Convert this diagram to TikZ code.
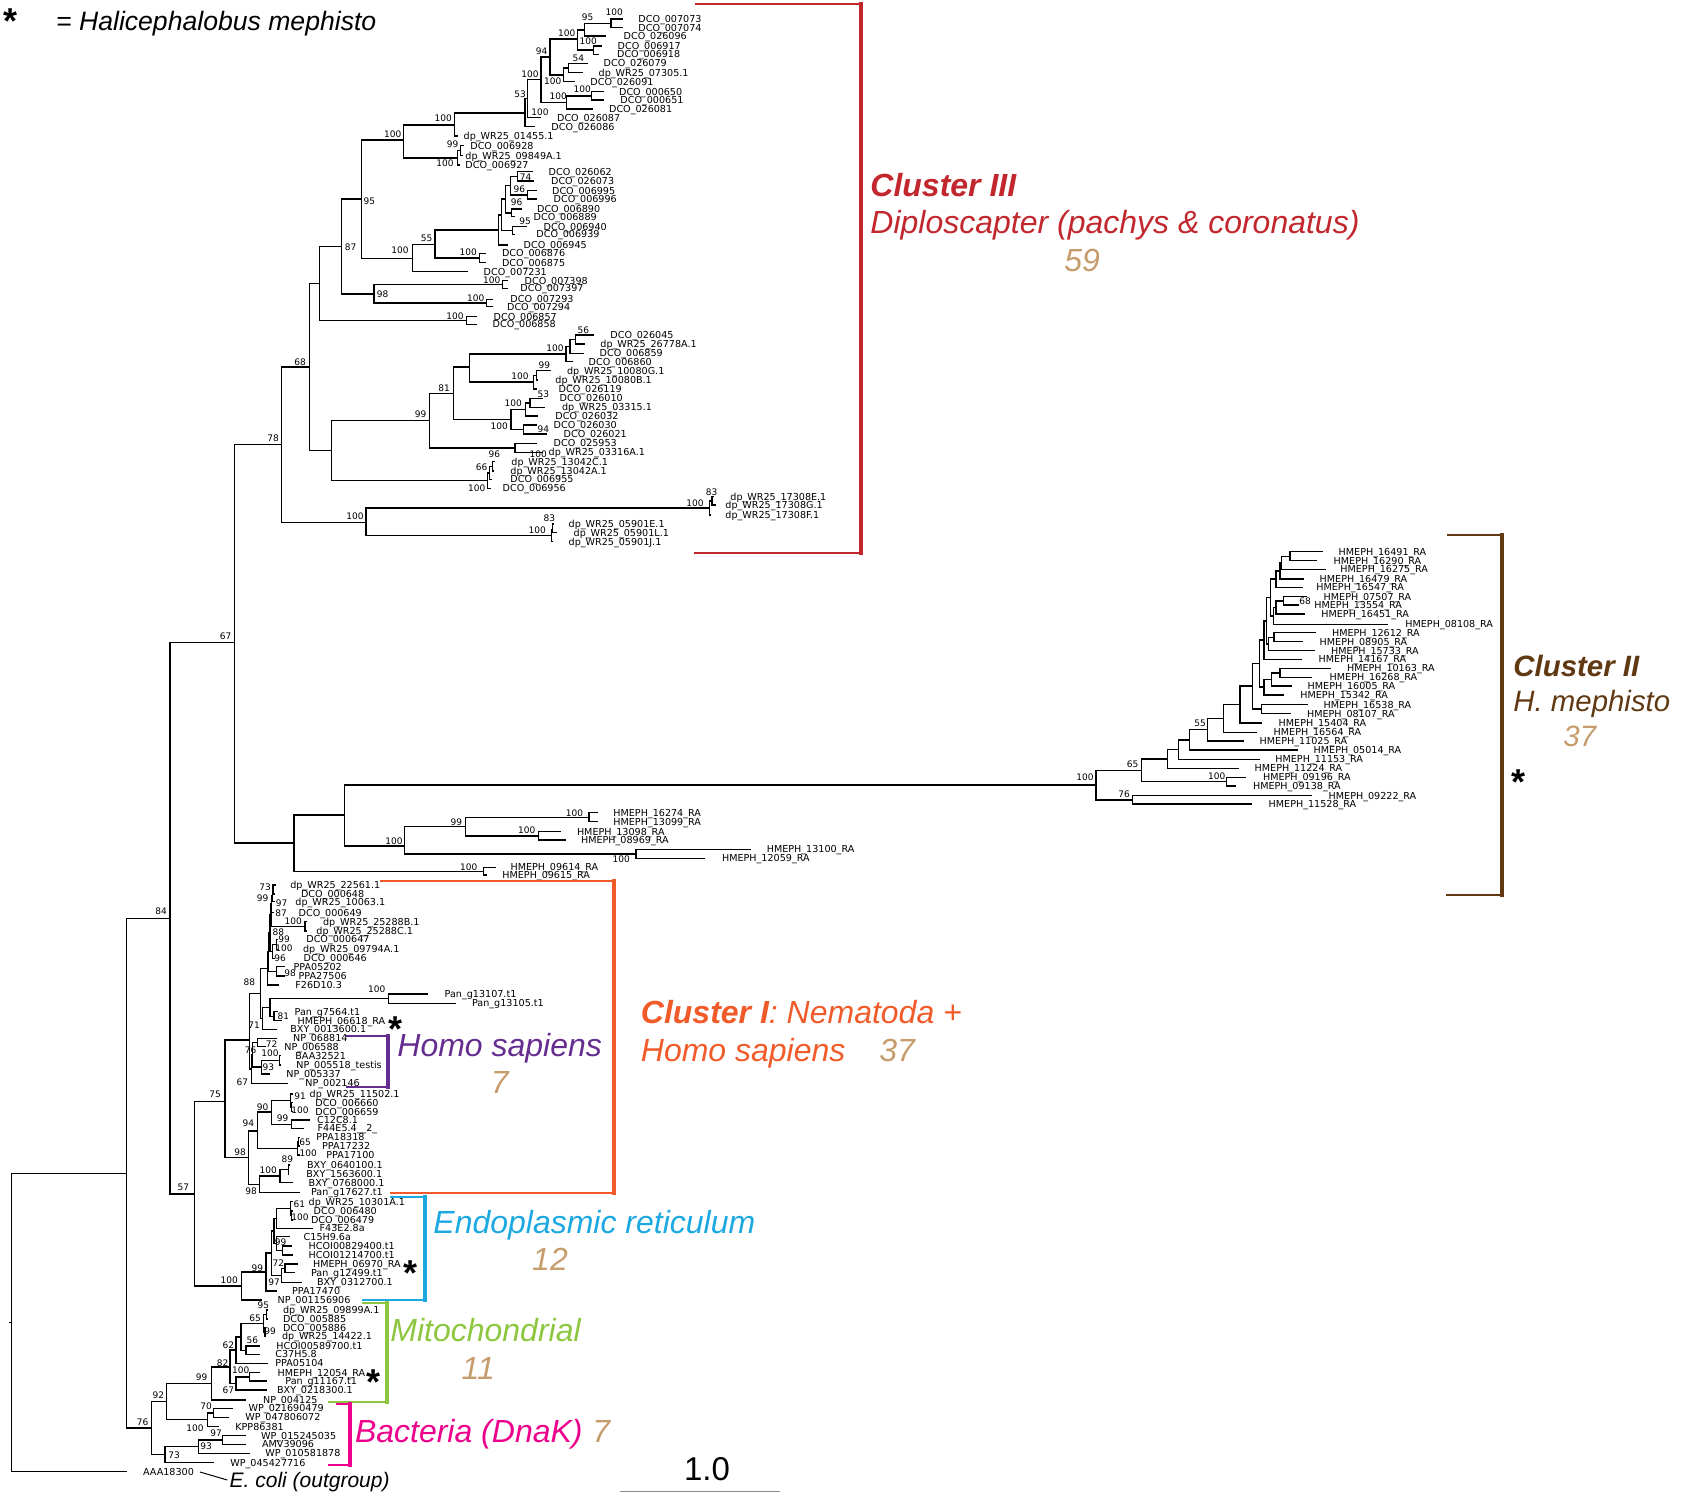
\documentclass[tikz,border=0pt]{standalone}
\usepackage{fontspec}
\setmainfont{Liberation Sans}
\newfontfamily\tipfont{DejaVu Sans}
\definecolor{redIII}{HTML}{C1272D}
\definecolor{brownII}{HTML}{603913}
\definecolor{orangeI}{HTML}{F15A29}
\definecolor{numtan}{HTML}{C69C6D}
\definecolor{homo}{HTML}{662D91}
\definecolor{ercol}{HTML}{1CA9E1}
\definecolor{mito}{HTML}{8DC63F}
\definecolor{bact}{HTML}{EC008C}
\tikzset{
  branch/.style={line width=0.7pt},
  tip/.style={anchor=west, inner sep=0pt, font=\tipfont\fontsize{4.8}{5.8}\selectfont, text height=3.5pt, text depth=0pt},
  supval/.style={inner sep=0pt, font=\tipfont\fontsize{4.5}{5.5}\selectfont, text height=3.3pt, text depth=0pt},
  bigtext/.style={anchor=west, inner sep=0pt, font=\itshape\fontsize{16}{16}\selectfont, text height=11.5pt, text depth=0pt},
  midtext/.style={bigtext, font=\itshape\fontsize{14.7}{14.7}\selectfont, text height=10.5pt},
  count/.style={bigtext, text=numtan},
  aster/.style={anchor=center, inner sep=0pt, text height=5.6pt, text depth=0pt, font=\bfseries\fontsize{18}{18}\selectfont},
  bracket/.style={line width=1pt},
  bracketbar/.style={line width=2pt, line cap=rect},
}
\newcommand{\leaf}[5]{\coordinate (#1) at (#2,#3); \node[tip] (#1-l) at (#4,#3) {#5};}
\newcommand{\clade}[3]{\coordinate (#1) at (#2,#3);}
\newcommand{\links}[2]{\foreach \kid in {#2}{\draw[branch] (#1) |- (\kid);}}
\newcommand{\supp}[4]{\node[supval] (#1) at (#2,#3) {#4};}
\newcommand{\astglyph}{\raisebox{-7.4pt}{*}}
\begin{document}
\begin{tikzpicture}[x=0.5pt,y=-0.5pt]
\useasboundingbox (0,0) rectangle (1685,1493);
\leaf{d7073}{623}{19}{638}{DCO\_007073}
\leaf{d7074}{623}{27.7}{638}{DCO\_007074}
\leaf{d26096}{606}{36}{623.3}{DCO\_026096}
\leaf{d6917}{601.7}{46}{617.3}{DCO\_006917}
\leaf{d6918}{599.3}{54.3}{616.7}{DCO\_006918}
\leaf{d26079}{587.7}{63.3}{603.3}{DCO\_026079}
\leaf{w07305}{583.3}{72.7}{598.3}{dp\_WR25\_07305.1}
\leaf{d26091}{575}{81.7}{590}{DCO\_026091}
\leaf{d650}{604}{91.7}{618.7}{DCO\_000650}
\leaf{d651}{604}{100}{620}{DCO\_000651}
\leaf{d26081}{593.3}{109}{608.7}{DCO\_026081}
\leaf{d26087}{541}{117.7}{556.7}{DCO\_026087}
\leaf{d26086}{535}{126.7}{551}{DCO\_026086}
\leaf{w01455}{458.3}{136}{463.3}{dp\_WR25\_01455.1}
\leaf{d6928}{463.5}{145.7}{470}{DCO\_006928}
\leaf{w09849}{463}{155.7}{465}{dp\_WR25\_09849A.1}
\leaf{d6927}{460}{165}{465}{DCO\_006927}
\leaf{d26062}{533.3}{171.7}{548.3}{DCO\_026062}
\leaf{d26073}{534.3}{181}{550.7}{DCO\_026073}
\leaf{d6995}{536.7}{190.7}{551.7}{DCO\_006995}
\leaf{d6996}{536.7}{199}{553.3}{DCO\_006996}
\leaf{d6890}{521.7}{209}{536.7}{DCO\_006890}
\leaf{d6889}{515}{216.7}{533.3}{DCO\_006889}
\leaf{d6940}{527.3}{226.7}{543.3}{DCO\_006940}
\leaf{d6939}{515}{234.3}{536}{DCO\_006939}
\leaf{d6945}{507.7}{245}{523.3}{DCO\_006945}
\leaf{d6876}{486}{253.3}{501.7}{DCO\_006876}
\leaf{d6875}{486}{262.7}{501.7}{DCO\_006875}
\leaf{d7231}{467.7}{271.7}{483.3}{DCO\_007231}
\leaf{d7398}{508.3}{280.7}{524.3}{DCO\_007398}
\leaf{d7397}{508.3}{288.3}{520}{DCO\_007397}
\leaf{d7293}{493.3}{299.3}{510}{DCO\_007293}
\leaf{d7294}{493.3}{306.7}{506.7}{DCO\_007294}
\leaf{d6857}{476.7}{316.7}{493.3}{DCO\_006857}
\leaf{d6858}{476.7}{324.3}{492.3}{DCO\_006858}
\leaf{d26045}{594.3}{335}{610}{DCO\_026045}
\leaf{w26778}{585}{344}{600}{dp\_WR25\_26778A.1}
\leaf{d6859}{584}{353.3}{599.3}{DCO\_006859}
\leaf{d6860}{572.7}{361.7}{588.3}{DCO\_006860}
\leaf{w10080g}{550.7}{370.7}{566.7}{dp\_WR25\_10080G.1}
\leaf{w10080b}{538.3}{380}{555}{dp\_WR25\_10080B.1}
\leaf{d26119}{536.7}{389}{558.3}{DCO\_026119}
\leaf{d26010}{543.3}{398.3}{559.3}{DCO\_026010}
\leaf{w03315}{545}{407.3}{561.7}{dp\_WR25\_03315.1}
\leaf{d26032}{538.3}{416}{555}{DCO\_026032}
\leaf{d26030}{536.7}{425}{553.3}{DCO\_026030}
\leaf{d26021}{546.7}{434}{563.3}{DCO\_026021}
\leaf{d25953}{536.7}{443.3}{553.3}{DCO\_025953}
\leaf{w03316}{543.3}{452.3}{548.3}{dp\_WR25\_03316A.1}
\leaf{w13042c}{495}{461.7}{511}{dp\_WR25\_13042C.1}
\leaf{w13042a}{494}{471}{510}{dp\_WR25\_13042A.1}
\leaf{d6955}{491.7}{479.3}{510}{DCO\_006955}
\leaf{d6956}{490.7}{488.3}{502.3}{DCO\_006956}
\leaf{w17308e}{714}{496.7}{730}{dp\_WR25\_17308E.1}
\leaf{w17308g}{716}{505}{725}{dp\_WR25\_17308G.1}
\leaf{w17308f}{711}{515}{725}{dp\_WR25\_17308F.1}
\leaf{w05901e}{554}{524}{568.3}{dp\_WR25\_05901E.1}
\leaf{w05901l}{557}{532.7}{573.3}{dp\_WR25\_05901L.1}
\leaf{w05901j}{552.5}{541.7}{568.3}{dp\_WR25\_05901J.1}
\leaf{hm16274}{598}{812.7}{613}{HMEPH\_16274\_RA}
\leaf{hm13099}{598}{821.7}{613}{HMEPH\_13099\_RA}
\leaf{hm13098}{560.8}{831.7}{576.6}{HMEPH\_13098\_RA}
\leaf{hm08969}{566.2}{840}{580.7}{HMEPH\_08969\_RA}
\leaf{hm13100}{750.7}{849.3}{766.4}{HMEPH\_13100\_RA}
\leaf{hm12059}{705}{858.3}{721.7}{HMEPH\_12059\_RA}
\leaf{hm09614}{495.7}{867.3}{510.2}{HMEPH\_09614\_RA}
\leaf{hm09615}{486.6}{875}{502}{HMEPH\_09615\_RA}
\leaf{hm16491}{1322.7}{551.7}{1338.3}{HMEPH\_16491\_RA}
\leaf{hm16290}{1317.3}{560.7}{1333.3}{HMEPH\_16290\_RA}
\leaf{hm16275}{1325.7}{569.3}{1340}{HMEPH\_16275\_RA}
\leaf{hm16479}{1304.3}{579}{1319.3}{HMEPH\_16479\_RA}
\leaf{hm16547}{1303.3}{587.3}{1316}{HMEPH\_16547\_RA}
\leaf{hm07507}{1306.7}{596.7}{1323.3}{HMEPH\_07507\_RA}
\leaf{hm13554}{1299.3}{605}{1314}{HMEPH\_13554\_RA}
\leaf{hm16451}{1305}{614}{1321}{HMEPH\_16451\_RA}
\leaf{hm08108}{1388.3}{624.3}{1405}{HMEPH\_08108\_RA}
\leaf{hm12612}{1315.7}{632.7}{1331.7}{HMEPH\_12612\_RA}
\leaf{hm08905}{1303.3}{641.7}{1319.3}{HMEPH\_08905\_RA}
\leaf{hm15733}{1315}{650.7}{1330.7}{HMEPH\_15733\_RA}
\leaf{hm14167}{1302.3}{659.3}{1318.3}{HMEPH\_14167\_RA}
\leaf{hm10163}{1330.7}{668.3}{1346.7}{HMEPH\_10163\_RA}
\leaf{hm16268}{1312.3}{677.3}{1329.3}{HMEPH\_16268\_RA}
\leaf{hm16005}{1291.7}{686}{1307.3}{HMEPH\_16005\_RA}
\leaf{hm15342}{1284}{695}{1300}{HMEPH\_15342\_RA}
\leaf{hm16538}{1308.3}{704.5}{1323.3}{HMEPH\_16538\_RA}
\leaf{hm08107}{1291}{713.5}{1306.7}{HMEPH\_08107\_RA}
\leaf{hm15404}{1262.3}{723}{1278.3}{HMEPH\_15404\_RA}
\leaf{hm16564}{1256.7}{732.3}{1273.3}{HMEPH\_16564\_RA}
\leaf{hm11025}{1244}{741}{1259.3}{HMEPH\_11025\_RA}
\leaf{hm05014}{1297.8}{750}{1313.3}{HMEPH\_05014\_RA}
\leaf{hm11153}{1259.5}{759.3}{1275}{HMEPH\_11153\_RA}
\leaf{hm11224}{1239.3}{768.3}{1254.3}{HMEPH\_11224\_RA}
\leaf{hm09196}{1246}{777.3}{1262.7}{HMEPH\_09196\_RA}
\leaf{hm09138}{1236}{786}{1252.7}{HMEPH\_09138\_RA}
\leaf{hm09222}{1312.3}{795.7}{1328.3}{HMEPH\_09222\_RA}
\leaf{hm11528}{1252.3}{804}{1268.3}{HMEPH\_11528\_RA}
\leaf{w22561}{276}{885}{290}{dp\_WR25\_22561.1}
\leaf{d648}{274.5}{894}{300.7}{DCO\_000648}
\leaf{w10063}{275}{901.7}{295}{dp\_WR25\_10063.1}
\leaf{d649}{273.5}{912.7}{298.3}{DCO\_000649}
\leaf{w25288b}{306.7}{921.7}{322.7}{dp\_WR25\_25288B.1}
\leaf{w25288c}{306.7}{931}{316}{dp\_WR25\_25288C.1}
\leaf{d647}{278}{939.3}{306}{DCO\_000647}
\leaf{w09794}{277}{949.3}{302.7}{dp\_WR25\_09794A.1}
\leaf{d646}{274.5}{958.3}{303.3}{DCO\_000646}
\leaf{ppa05202}{285}{966.7}{293.3}{PPA05202}
\leaf{ppa27506}{285}{976}{298.3}{PPA27506}
\leaf{f26d10}{279}{985}{295}{F26D10.3}
\leaf{pan13107}{428.3}{994}{444.3}{Pan\_g13107.t1}
\leaf{pan13105}{456}{1003.3}{471.7}{Pan\_g13105.t1}
\leaf{pan7564}{278.3}{1011.7}{294.3}{Pan\_g7564.t1}
\leaf{hm06618}{281.7}{1020.7}{297.3}{HMEPH\_06618\_RA}
\leaf{bxy13600}{276.7}{1029.3}{290}{BXY\_0013600.1}
\leaf{np068814}{276.7}{1038.3}{292.7}{NP\_068814}
\leaf{np006588}{266}{1046.7}{284}{NP\_006588}
\leaf{baa32521}{280.5}{1055.7}{295}{BAA32521}
\leaf{np005518}{280.5}{1065}{296}{NP\_005518\_testis}
\leaf{np005337}{270}{1074}{286}{NP\_005337}
\leaf{np002146}{288.3}{1083.3}{305}{NP\_002146}
\leaf{w11502}{292.7}{1094}{309.3}{dp\_WR25\_11502.1}
\leaf{d6660}{292.7}{1102.7}{315}{DCO\_006660}
\leaf{d6659}{292.7}{1111.7}{315}{DCO\_006659}
\leaf{c12c8}{310}{1120}{316.7}{C12C8.1}
\leaf{f44e5}{304}{1128.3}{317.3}{F44E5.4\_\_2\_}
\leaf{ppa18318}{299.5}{1137.3}{316}{PPA18318}
\leaf{ppa17232}{299.5}{1146}{321.7}{PPA17232}
\leaf{ppa17100}{299.5}{1155}{326}{PPA17100}
\leaf{bxy640}{290}{1165}{306.7}{BXY\_0640100.1}
\leaf{bxy1563}{289.3}{1174}{306}{BXY\_1563600.1}
\leaf{bxy768}{293.3}{1182.7}{308.3}{BXY\_0768000.1}
\leaf{pan17627}{300}{1192.3}{310.7}{Pan\_g17627.t1}
\leaf{w10301}{293}{1201.7}{308.3}{dp\_WR25\_10301A.1}
\leaf{d6480}{292.7}{1211}{313.3}{DCO\_006480}
\leaf{d6479}{292.7}{1220}{310.7}{DCO\_006479}
\leaf{f43e2}{312.7}{1228.3}{319.3}{F43E2.8a}
\leaf{c15h9}{290}{1236.7}{303.3}{C15H9.6a}
\leaf{hc829}{291.7}{1246}{308.3}{HCOI00829400.t1}
\leaf{hc1214}{292.7}{1255}{308.3}{HCOI01214700.t1}
\leaf{hm06970}{298.3}{1264}{312.7}{HMEPH\_06970\_RA}
\leaf{pan12499}{295}{1272.7}{310.7}{Pan\_g12499.t1}
\leaf{bxy312}{301.7}{1282.3}{316.7}{BXY\_0312700.1}
\leaf{ppa17470}{276.7}{1291}{291.7}{PPA17470}
\leaf{np1156}{262}{1300}{277.3}{NP\_001156906}
\leaf{w09899}{268}{1310}{282.7}{dp\_WR25\_09899A.1}
\leaf{d5885}{267.5}{1319}{282.7}{DCO\_005885}
\leaf{d5886}{266}{1327.7}{282.7}{DCO\_005886}
\leaf{w14422}{266}{1336}{281.7}{dp\_WR25\_14422.1}
\leaf{hc589}{260}{1346}{276}{HCOI00589700.t1}
\leaf{c37h5}{260}{1354.3}{275}{C37H5.8}
\leaf{ppa05104}{268.3}{1363.3}{275}{PPA05104}
\leaf{hm12054}{260}{1372.7}{277.3}{HMEPH\_12054\_RA}
\leaf{pan11167}{266.7}{1381}{285}{Pan\_g11167.t1}
\leaf{bxy218}{266.7}{1390}{276.7}{BXY\_0218300.1}
\leaf{np4125}{246}{1400}{262.7}{NP\_004125}
\leaf{wp021690}{232.7}{1408.3}{248.3}{WP\_021690479}
\leaf{wp047806}{229.3}{1417.3}{245}{WP\_047806072}
\leaf{kpp86381}{219.3}{1426.7}{235}{KPP86381}
\leaf{wp015245}{246}{1435.7}{260.7}{WP\_015245035}
\leaf{amv39096}{246}{1444.3}{261.7}{AMV39096}
\leaf{wp010581}{250}{1453.3}{265}{WP\_010581878}
\leaf{wp045427}{214.3}{1462.7}{230}{WP\_045427716}
\leaf{aaa18300}{126.7}{1471.7}{142.7}{AAA18300}
\clade{a1}{611}{23.3}
\clade{a2}{584.3}{30}
\clade{a3}{593.3}{50}
\clade{a4}{577.3}{39}
\clade{a5}{568.3}{68}
\clade{a6}{563.3}{75}
\clade{a7}{550}{57}
\clade{a8}{591.7}{96}
\clade{a9}{566.7}{102.5}
\clade{a10}{541}{79.3}
\clade{a11}{527.7}{98.5}
\clade{a12}{525}{113}
\clade{a13}{454.3}{125}
\clade{a15}{460.7}{150.7}
\clade{a16}{457.7}{158}
\clade{a14}{403.3}{140}
\clade{b1}{517.7}{176.3}
\clade{b2}{527.3}{195}
\clade{b4}{510.3}{185.7}
\clade{b5}{511.7}{212.8}
\clade{b7}{505.7}{199}
\clade{b3}{512.7}{230.5}
\clade{b8}{501.7}{215}
\clade{b9}{498.3}{230}
\clade{b10}{479.3}{258}
\clade{b11}{435}{244.3}
\clade{b6}{412.7}{258.3}
\clade{a17}{361.7}{199}
\clade{b12}{502.7}{284.5}
\clade{b13}{486.7}{303}
\clade{b14}{374}{294}
\clade{a18}{341.7}{246.7}
\clade{b15}{466.7}{320.5}
\clade{c1}{319.3}{283.6}
\clade{c11}{575.7}{339.5}
\clade{c12}{570}{346.5}
\clade{c9}{566}{354}
\clade{c13}{536.7}{375.3}
\clade{c10}{533.3}{382}
\clade{c7}{469.3}{367}
\clade{c16}{530}{402.8}
\clade{c14}{525.7}{409.4}
\clade{c15}{523.3}{429.5}
\clade{c8}{511}{419.5}
\clade{c5}{453.3}{393.5}
\clade{c6}{515}{447.8}
\clade{c3}{429.3}{420.6}
\clade{c17}{492.5}{466.3}
\clade{c18}{489.3}{473}
\clade{c4}{487.3}{480.7}
\clade{c2}{331.7}{450.7}
\clade{c0}{309.3}{367}
\clade{g4}{712}{501}
\clade{g2}{709.3}{508}
\clade{g5}{552.7}{529.5}
\clade{g3}{551.7}{535.6}
\clade{g1}{366}{522.7}
\clade{n78}{281.7}{444.7}
\clade{h16274}{589}{817.2}
\clade{h13098}{538.4}{836}
\clade{h99}{465.4}{826.6}
\clade{h13100}{635.8}{853.8}
\clade{hy}{404.5}{846}
\clade{p1}{1290}{556.2}
\clade{p2}{1281.7}{562.8}
\clade{p3}{1280}{571}
\clade{p4}{1276}{579}
\clade{q1}{1283.3}{600.8}
\clade{q2}{1276}{607.5}
\clade{q3}{1273.3}{616}
\clade{p5}{1270.7}{597.5}
\clade{r1}{1274}{637.2}
\clade{r2}{1268.3}{644}
\clade{p6}{1266.7}{621}
\clade{p7}{1264}{640}
\clade{s1}{1280}{672.8}
\clade{s2}{1271.7}{679.4}
\clade{s3}{1264}{687}
\clade{p8}{1259.3}{663.5}
\clade{t1}{1261.7}{709}
\clade{p9}{1252.7}{686}
\clade{ne}{1240}{704.5}
\clade{nd}{1223.3}{718.5}
\clade{n55}{1207.7}{729.7}
\clade{nc}{1189.3}{740}
\clade{nb}{1178.3}{749.6}
\clade{na}{1167.3}{759}
\clade{n100b}{1226.7}{781.7}
\clade{n65}{1141.7}{770.3}
\clade{n76b}{1132.7}{799.8}
\clade{c2root}{1096}{785}
\clade{hx}{344.4}{815}
\clade{h09614}{483.3}{871.2}
\clade{hm}{293.8}{843}
\clade{n67}{234.3}{642.6}
\clade{u1}{273}{889.5}
\clade{u2}{272.3}{895.6}
\clade{u3}{271.7}{904}
\clade{u4}{305}{926.3}
\clade{u5}{271}{915}
\clade{u6}{276.7}{944.3}
\clade{u7}{272.7}{951.3}
\clade{u8}{270}{933}
\clade{u9}{276.7}{971.3}
\clade{u10}{268.7}{952}
\clade{u11}{267.3}{968.5}
\clade{w1}{388.3}{998.7}
\clade{w2}{274}{1016.2}
\clade{w3}{270}{1007.4}
\clade{w4}{262.7}{1018.3}
\clade{v1}{260.7}{993.4}
\clade{x1}{257.3}{1042.5}
\clade{x2}{279.3}{1060.3}
\clade{x3}{261.7}{1067}
\clade{x4}{252.7}{1054.7}
\clade{x5}{251.7}{1069}
\clade{y1}{249.3}{1040}
\clade{z0}{291.7}{1107.2}
\clade{z1}{290.5}{1100.6}
\clade{z2}{291.7}{1124.2}
\clade{z3}{271.7}{1112}
\clade{z4a}{298.5}{1141.7}
\clade{z4}{297.7}{1148.3}
\clade{z5}{257.3}{1131}
\clade{z6}{288.3}{1169.5}
\clade{z7}{280}{1176}
\clade{z8}{259.3}{1184.3}
\clade{z9}{248.3}{1157.7}
\clade{n75}{225}{1101.7}
\clade{e0}{291.7}{1215.5}
\clade{e1}{290.7}{1208.6}
\clade{e2}{276.7}{1218.5}
\clade{e3}{282.7}{1250.5}
\clade{e4}{276.7}{1243.6}
\clade{e5}{285}{1268.3}
\clade{e6}{281.7}{1275.3}
\clade{e7}{274}{1231}
\clade{e8}{271.7}{1253}
\clade{e9}{266}{1272}
\clade{ner}{241.7}{1286}
\clade{n57}{194.3}{1194}
\clade{m1}{266.7}{1314.5}
\clade{m2}{265}{1331.8}
\clade{m3}{263.3}{1323.2}
\clade{m4}{246}{1350.2}
\clade{m5}{241}{1337}
\clade{m6}{236}{1350}
\clade{m7}{249.3}{1376.8}
\clade{m8}{236}{1383.4}
\clade{m9}{230}{1367}
\clade{m10}{211.7}{1383.5}
\clade{k0}{213.3}{1412.8}
\clade{k1}{207.3}{1419.7}
\clade{n92}{166.7}{1401.6}
\clade{k2}{222.7}{1440}
\clade{k3}{198.3}{1446.7}
\clade{k4}{165}{1454.7}
\clade{n76}{151.7}{1428}
\clade{n84}{170}{918.3}
\clade{r0}{126.7}{1173.4}
\clade{root}{11.7}{1322.5}
\coordinate (rootstem) at (8.5,1322.5);
\links{a1}{d7073,d7074}
\links{a2}{a1,d26096}
\links{a3}{d6917,d6918}
\links{a4}{a2,a3}
\links{a5}{d26079,w07305}
\links{a6}{a5,d26091}
\links{a7}{a4,a6}
\links{a8}{d650,d651}
\links{a9}{a8,d26081}
\links{a10}{a7,a9}
\links{a11}{a10,d26087}
\links{a12}{a11,d26086}
\links{a13}{a12,w01455}
\links{a15}{d6928,w09849}
\links{a16}{a15,d6927}
\links{a14}{a13,a16}
\links{b1}{d26062,d26073}
\links{b2}{d6995,d6996}
\links{b4}{b1,b2}
\links{b5}{d6890,d6889}
\links{b7}{b4,b5}
\links{b3}{d6940,d6939}
\links{b8}{b7,b3}
\links{b9}{b8,d6945}
\links{b10}{d6876,d6875}
\links{b11}{b9,b10}
\links{b6}{b11,d7231}
\links{a17}{a14,b6}
\links{b12}{d7398,d7397}
\links{b13}{d7293,d7294}
\links{b14}{b12,b13}
\links{a18}{a17,b14}
\links{b15}{d6857,d6858}
\links{c1}{a18,b15}
\links{c11}{d26045,w26778}
\links{c12}{c11,d6859}
\links{c9}{c12,d6860}
\links{c13}{w10080g,w10080b}
\links{c10}{c13,d26119}
\links{c7}{c9,c10}
\links{c16}{d26010,w03315}
\links{c14}{c16,d26032}
\links{c15}{d26030,d26021}
\links{c8}{c14,c15}
\links{c5}{c7,c8}
\links{c6}{d25953,w03316}
\links{c3}{c5,c6}
\links{c17}{w13042c,w13042a}
\links{c18}{c17,d6955}
\links{c4}{c18,d6956}
\links{c2}{c3,c4}
\links{c0}{c1,c2}
\links{g4}{w17308e,w17308g}
\links{g2}{g4,w17308f}
\links{g5}{w05901e,w05901l}
\links{g3}{g5,w05901j}
\links{g1}{g2,g3}
\links{n78}{c0,g1}
\links{h16274}{hm16274,hm13099}
\links{h13098}{hm13098,hm08969}
\links{h99}{h16274,h13098}
\links{h13100}{hm13100,hm12059}
\links{hy}{h99,h13100}
\links{p1}{hm16491,hm16290}
\links{p2}{p1,hm16275}
\links{p3}{p2,hm16479}
\links{p4}{p3,hm16547}
\links{q1}{hm07507,hm13554}
\links{q2}{q1,hm16451}
\links{q3}{q2,hm08108}
\links{p5}{p4,q3}
\links{r1}{hm12612,hm08905}
\links{r2}{r1,hm15733}
\links{p6}{p5,r2}
\links{p7}{p6,hm14167}
\links{s1}{hm10163,hm16268}
\links{s2}{s1,hm16005}
\links{s3}{s2,hm15342}
\links{p8}{p7,s3}
\links{t1}{hm16538,hm08107}
\links{p9}{p8,t1}
\links{ne}{p9,hm15404}
\links{nd}{ne,hm16564}
\links{n55}{nd,hm11025}
\links{nc}{n55,hm05014}
\links{nb}{nc,hm11153}
\links{na}{nb,hm11224}
\links{n100b}{hm09196,hm09138}
\links{n65}{na,n100b}
\links{n76b}{hm09222,hm11528}
\links{c2root}{n65,n76b}
\links{hx}{c2root,hy}
\links{h09614}{hm09614,hm09615}
\links{hm}{hx,h09614}
\links{n67}{n78,hm}
\links{u1}{w22561,d648}
\links{u2}{u1,w10063}
\links{u3}{u2,d649}
\links{u4}{w25288b,w25288c}
\links{u5}{u3,u4}
\links{u6}{d647,w09794}
\links{u7}{u6,d646}
\links{u8}{u5,u7}
\links{u9}{ppa05202,ppa27506}
\links{u10}{u8,u9}
\links{u11}{u10,f26d10}
\links{w1}{pan13107,pan13105}
\links{w2}{pan7564,hm06618}
\links{w3}{w1,w2}
\links{w4}{w3,bxy13600}
\links{v1}{u11,w4}
\links{x1}{np068814,np006588}
\links{x2}{baa32521,np005518}
\links{x3}{x2,np005337}
\links{x4}{x1,x3}
\links{x5}{x4,np002146}
\links{y1}{v1,x5}
\links{z0}{d6660,d6659}
\links{z1}{w11502,z0}
\links{z2}{c12c8,f44e5}
\links{z3}{z1,z2}
\links{z4a}{ppa18318,ppa17232}
\links{z4}{z4a,ppa17100}
\links{z5}{z3,z4}
\links{z6}{bxy640,bxy1563}
\links{z7}{z6,bxy768}
\links{z8}{z7,pan17627}
\links{z9}{z5,z8}
\links{n75}{y1,z9}
\links{e0}{d6480,d6479}
\links{e1}{w10301,e0}
\links{e2}{e1,f43e2}
\links{e3}{hc829,hc1214}
\links{e4}{c15h9,e3}
\links{e5}{hm06970,pan12499}
\links{e6}{e5,bxy312}
\links{e7}{e2,e4}
\links{e8}{e7,e6}
\links{e9}{e8,ppa17470}
\links{ner}{e9,np1156}
\links{n57}{n75,ner}
\links{m1}{w09899,d5885}
\links{m2}{d5886,w14422}
\links{m3}{m1,m2}
\links{m4}{hc589,c37h5}
\links{m5}{m3,m4}
\links{m6}{m5,ppa05104}
\links{m7}{hm12054,pan11167}
\links{m8}{m7,bxy218}
\links{m9}{m6,m8}
\links{m10}{m9,np4125}
\links{k0}{wp021690,wp047806}
\links{k1}{k0,kpp86381}
\links{n92}{m10,k1}
\links{k2}{wp015245,amv39096}
\links{k3}{k2,wp010581}
\links{k4}{k3,wp045427}
\links{n76}{n92,k4}
\links{n84}{n67,n57}
\links{r0}{n84,n76}
\links{root}{r0,aaa18300}
\draw[branch] (rootstem) -- (root);
\supp{s-a1}{614.3}{12.3}{100}
\supp{s-a2}{587.7}{17.3}{95}
\supp{s-a3}{588.3}{41.7}{100}
\supp{s-a4}{566.7}{33.3}{100}
\supp{s-a5}{578.3}{58.3}{54}
\supp{s-a6}{552.7}{81}{100}
\supp{s-a7}{541.7}{51.7}{94}
\supp{s-a8}{582.3}{89.3}{100}
\supp{s-a9}{558.3}{96.7}{100}
\supp{s-a10}{530}{74}{100}
\supp{s-a11}{540}{112.3}{100}
\supp{s-a12}{520}{94}{53}
\supp{s-a13}{443.3}{118.3}{100}
\supp{s-a15}{452.7}{144}{99}
\supp{s-a16}{445}{162.7}{100}
\supp{s-a14}{392.7}{134}{100}
\supp{s-b1}{525.7}{177.3}{74}
\supp{s-b2}{519.3}{189.3}{96}
\supp{s-b5}{516.7}{202.3}{96}
\supp{s-b3}{525}{220.7}{95}
\supp{s-b10}{468.3}{252.3}{100}
\supp{s-b11}{426.7}{238.3}{55}
\supp{s-b6}{400}{250}{100}
\supp{s-a17}{369.3}{200.7}{95}
\supp{s-b12}{491.7}{280}{100}
\supp{s-b13}{475.7}{297.7}{100}
\supp{s-b14}{382.7}{294.3}{98}
\supp{s-a18}{350.7}{246.7}{87}
\supp{s-b15}{455}{315.7}{100}
\supp{s-c0}{300}{361.7}{68}
\supp{s-c11}{583.3}{330}{56}
\supp{s-c9}{555}{348.3}{100}
\supp{s-c13}{544.3}{365}{99}
\supp{s-c10}{520}{376}{100}
\supp{s-c16}{543.3}{394}{53}
\supp{s-c14}{513.3}{403.3}{100}
\supp{s-c15}{543.3}{429.3}{94}
\supp{s-c8}{499.3}{426}{100}
\supp{s-c5}{444}{388.3}{81}
\supp{s-c6}{538.3}{454.3}{100}
\supp{s-c3}{420.7}{414.3}{99}
\supp{s-c17}{494.3}{454.3}{96}
\supp{s-c18}{481.7}{466.7}{66}
\supp{s-c4}{476.7}{487.7}{100}
\supp{s-g4}{711.7}{491.7}{83}
\supp{s-g2}{695}{503.3}{100}
\supp{s-g5}{549.3}{518.3}{83}
\supp{s-g3}{537.3}{530}{100}
\supp{s-g1}{355}{516}{100}
\supp{s-n78}{273}{438.4}{78}
\supp{s-h16274}{574.5}{812.7}{100}
\supp{s-h13098}{526.8}{830}{100}
\supp{s-h99}{456.3}{821.7}{99}
\supp{s-h13100}{621.3}{859.3}{100}
\supp{s-hy}{394}{841}{100}
\supp{s-h09614}{468.8}{867.3}{100}
\supp{s-n67}{225.7}{636}{67}
\supp{s-q1}{1305}{601}{68}
\supp{s-n55}{1200}{723.3}{55}
\supp{s-n65}{1132.7}{764}{65}
\supp{s-n100b}{1216.7}{776}{100}
\supp{s-n76b}{1124}{794.3}{76}
\supp{s-c2root}{1085}{777.3}{100}
\supp{s-u1}{265}{886.7}{73}
\supp{s-u2}{262.7}{898.3}{99}
\supp{s-u3}{281.7}{903.3}{97}
\supp{s-u5}{281}{913.3}{87}
\supp{s-u4}{293.3}{921}{100}
\supp{s-u8}{278.3}{931.7}{88}
\supp{s-u6}{284}{939.3}{99}
\supp{s-u7}{284}{948.3}{100}
\supp{s-u7b}{280}{958.3}{96}
\supp{s-u9}{290}{972.7}{98}
\supp{s-v1}{249.3}{981.7}{88}
\supp{s-w1}{376.7}{989.3}{100}
\supp{s-w2}{283.3}{1015.7}{81}
\supp{s-w4}{254}{1025}{71}
\supp{s-x1}{271.7}{1044.3}{72}
\supp{s-x4}{250.7}{1050}{76}
\supp{s-x2}{270}{1053.3}{100}
\supp{s-x3}{268.3}{1066.7}{93}
\supp{s-x5}{242.3}{1082.3}{67}
\supp{s-n75}{215}{1094}{75}
\supp{s-z1}{300}{1096}{91}
\supp{s-z0}{300}{1110}{100}
\supp{s-z3}{262.7}{1107.3}{90}
\supp{s-z2}{282.7}{1118.3}{99}
\supp{s-z5}{248.3}{1123.3}{94}
\supp{s-z4a}{305}{1141.7}{65}
\supp{s-z4}{308.3}{1153.3}{100}
\supp{s-z9}{240}{1151.7}{98}
\supp{s-z6}{287.3}{1159.3}{89}
\supp{s-z7}{268.3}{1170}{100}
\supp{s-z8}{251}{1190.7}{98}
\supp{s-n57}{183.3}{1186.7}{57}
\supp{s-n84}{161.2}{911.3}{84}
\supp{s-e1}{299.3}{1204}{61}
\supp{s-e0}{300}{1216.7}{100}
\supp{s-e3}{280.7}{1241.7}{99}
\supp{s-e5}{278.3}{1262.7}{72}
\supp{s-e9}{257.3}{1268.3}{99}
\supp{s-ner}{229.3}{1280}{100}
\supp{s-e6}{274}{1281.7}{97}
\supp{s-m1}{263.3}{1305}{95}
\supp{s-m3}{255}{1318.3}{65}
\supp{s-m2}{270}{1330.7}{99}
\supp{s-m4}{252.3}{1340}{56}
\supp{s-m5}{228.3}{1345}{62}
\supp{s-m9}{222.7}{1362.7}{82}
\supp{s-m7}{240.7}{1370}{100}
\supp{s-m10}{201.7}{1377.3}{99}
\supp{s-m8}{228.3}{1390}{67}
\supp{s-n92}{158.3}{1395}{92}
\supp{s-k0}{206}{1406}{70}
\supp{s-n76}{142.7}{1421.7}{76}
\supp{s-k1}{195}{1427.7}{100}
\supp{s-k2}{216}{1433.3}{97}
\supp{s-k3}{206}{1446}{93}
\supp{s-k4}{174}{1455}{73}
\coordinate (IIIa) at (695,4);
\coordinate (IIIb) at (860.7,4);
\coordinate (IIIc) at (860.7,553.3);
\coordinate (IIId) at (694.3,553.3);
\draw[bracket, redIII] (IIIa) -- (IIIb);
\draw[bracket, redIII] (IIIc) -- (IIId);
\draw[bracketbar, redIII] (IIIb) -- (IIIc);
\coordinate (IIa) at (1446.7,535);
\coordinate (IIb) at (1502,535);
\coordinate (IIc) at (1502,894.5);
\coordinate (IId) at (1446,894.5);
\draw[bracket, brownII] (IIa) -- (IIb);
\draw[bracket, brownII] (IIc) -- (IId);
\draw[bracketbar, brownII] (IIb) -- (IIc);
\coordinate (Ia) at (379.5,880.5);
\coordinate (Ib) at (613.7,880.5);
\coordinate (Ic) at (613.7,1193);
\coordinate (Id) at (390,1193);
\draw[bracket, orangeI] (Ia) -- (Ib);
\draw[bracket, orangeI] (Ic) -- (Id);
\draw[bracketbar, orangeI] (Ib) -- (Ic);
\coordinate (hsa) at (345.7,1035.7);
\coordinate (hsb) at (388.3,1035.7);
\coordinate (hsc) at (388.3,1086.7);
\coordinate (hsd) at (345.7,1086.7);
\draw[bracket, homo] (hsa) -- (hsb);
\draw[bracket, homo] (hsc) -- (hsd);
\draw[bracketbar, homo] (hsb) -- (hsc);
\coordinate (era) at (390,1196.7);
\coordinate (erb) at (425,1196.7);
\coordinate (erc) at (425,1300);
\coordinate (erd) at (361.7,1300);
\draw[bracket, ercol] (era) -- (erb);
\draw[bracket, ercol] (erc) -- (erd);
\draw[bracketbar, ercol] (erb) -- (erc);
\coordinate (mta) at (361.7,1303.3);
\coordinate (mtb) at (386.7,1303.3);
\coordinate (mtc) at (386.7,1401.7);
\coordinate (mtd) at (328.3,1401.7);
\draw[bracket, mito] (mta) -- (mtb);
\draw[bracket, mito] (mtc) -- (mtd);
\draw[bracketbar, mito] (mtb) -- (mtc);
\coordinate (bca) at (336,1404.3);
\coordinate (bcb) at (350.3,1404.3);
\coordinate (bcc) at (350.3,1464.8);
\coordinate (bcd) at (327.8,1464.8);
\draw[bracket, bact] (bca) -- (bcb);
\draw[bracket, bact] (bcc) -- (bcd);
\draw[bracketbar, bact] (bcb) -- (bcc);
\node[bigtext, text=redIII] (IIIname) at (870,184.8) {\bfseries Cluster III};
\node[bigtext, text=redIII] (IIIgenus) at (870,222.4) {Diploscapter (pachys \& coronatus)};
\node[count] (IIIcount) at (1064,260) {59};
\node[midtext, text=brownII] (IIname) at (1513,666) {\bfseries Cluster II};
\node[midtext, text=brownII] (IIgenus) at (1513,700.6) {H. mephisto};
\node[midtext, text=numtan] (IIcount) at (1563,736) {37};
\node[aster] (IIstar) at (1518.5,773.7) {\astglyph};
\node[bigtext, text=orangeI] (Iname) at (640.5,1012.3) {\textbf{Cluster I}: Nematoda +};
\node[bigtext, text=orangeI] (Ihomo) at (640.5,1050) {Homo sapiens};
\node[count] (Icount) at (879,1050) {37};
\node[bigtext, text=homo] (hsname) at (397,1044.5) {Homo sapiens};
\node[count, anchor=center] (hscount) at (499.7,1082) {7};
\node[bigtext, text=ercol] (ername) at (433,1221.8) {Endoplasmic reticulum};
\node[count, anchor=center] (ercount) at (550,1259.4) {12};
\node[bigtext, text=mito] (mtname) at (390,1330.4) {Mitochondrial};
\node[count, anchor=center] (mtcount) at (478.2,1368) {11};
\node[bigtext, text=bact] (bcname) at (354.6,1431.4) {Bacteria (DnaK)};
\node[count] (bccount) at (592,1431.4) {7};
\node[aster] (st06618) at (395.5,1020.7) {\astglyph};
\node[aster] (st06970) at (410,1265) {\astglyph};
\node[aster] (st12054) at (373.3,1374) {\astglyph};
\node[aster] (legstar) at (11,13) {\astglyph};
\node[bigtext, font=\itshape\fontsize{13.3}{13.3}\selectfont, text height=9.5pt] (legend) at (55.8,21.5) {= Halicephalobus mephisto};
\node[bigtext, font=\itshape\fontsize{10.5}{10.5}\selectfont, text height=7.5pt] (ecoli) at (229.3,1480) {E. coli (outgroup)};
\coordinate (ecolifrom) at (200,1472);
\draw[line width=0.5pt] (ecolifrom) -- ([xshift=-1pt]ecoli.west);
\coordinate (barl) at (620,1491.5);
\coordinate (barr) at (780,1491.5);
\draw[line width=0.8pt, black!45] (barl) -- (barr);
\node[bigtext, anchor=center, font=\fontsize{16.5}{16.5}\selectfont, text height=11.8pt] (barlab) at (707,1469) {1.0};
\end{tikzpicture}
\end{document}
